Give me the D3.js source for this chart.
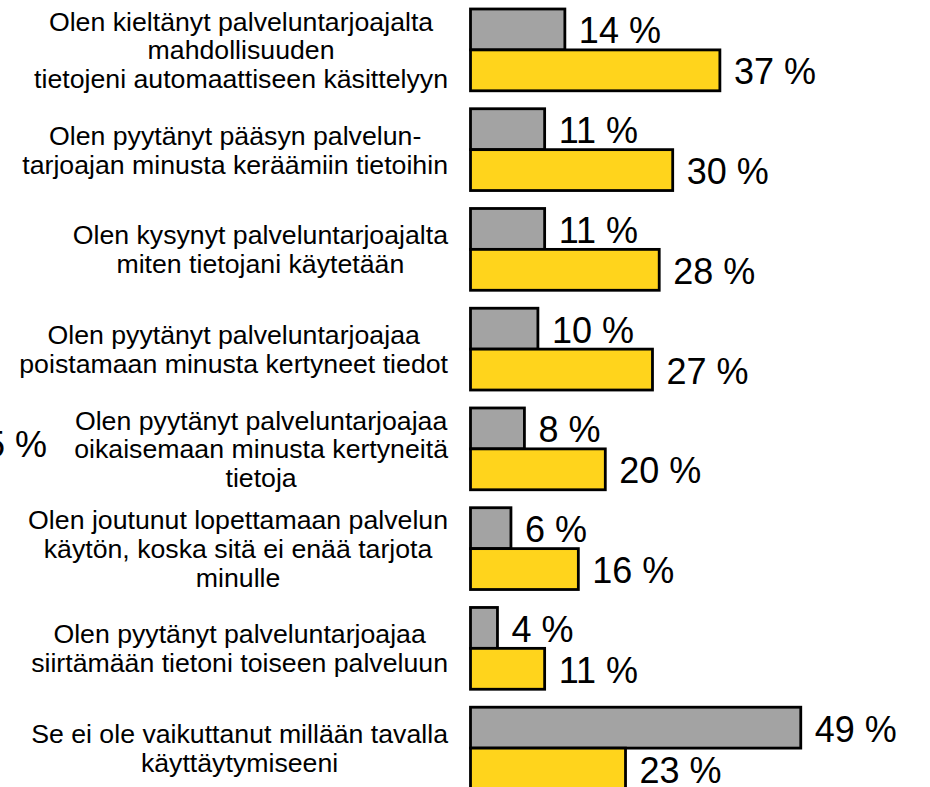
<!DOCTYPE html>
<html>
<head>
<meta charset="utf-8">
<script src="https://cdn.jsdelivr.net/npm/d3@7"></script>
<style>
  html, body { margin: 0; padding: 0; background: #fff; }
  svg { display: block; font-family: "Liberation Sans", Arial, sans-serif; }
</style>
</head>
<body>
<svg id="chart" width="930" height="787"></svg>
<script>
// Survey answers: each category as its own wrapped label lines
const categories = [
  ["Olen kieltänyt palveluntarjoajalta", "mahdollisuuden", "tietojeni automaattiseen käsittelyyn"],
  ["Olen pyytänyt pääsyn palvelun-", "tarjoajan minusta keräämiin tietoihin"],
  ["Olen kysynyt palveluntarjoajalta", "miten tietojani käytetään"],
  ["Olen pyytänyt palveluntarjoajaa", "poistamaan minusta kertyneet tiedot"],
  ["Olen pyytänyt palveluntarjoajaa", "oikaisemaan minusta kertyneitä", "tietoja"],
  ["Olen joutunut lopettamaan palvelun", "käytön, koska sitä ei enää tarjota", "minulle"],
  ["Olen pyytänyt palveluntarjoajaa", "siirtämään tietoni toiseen palveluun"],
  ["Se ei ole vaikuttanut millään tavalla", "käyttäytymiseeni"]
];

// Two series, in percent
const seriesGray   = [14, 11, 11, 10, 8, 6, 4, 49];
const seriesYellow = [37, 30, 28, 27, 20, 16, 11, 23];
const seriesNames  = ["gray", "yellow"];
const seriesColors = ["#a3a3a3", "#ffd41c"];

// Fragment of a neighbouring panel's value label at the left edge
const strayLabels = ["5 %"];

const svg = d3.select("#chart");

const ids = categories.map((_, i) => i);
const rows = ids.map(i => ({ id: i, lines: categories[i], values: [seriesGray[i], seriesYellow[i]] }));

const x = d3.scaleLinear().domain([0, 100]).range([470.5, 1144.5]);
const y0 = d3.scaleBand().domain(ids).range([9, 789]).paddingInner(0.18).paddingOuter(0);
const y1 = d3.scaleBand().domain(seriesNames).range([0, y0.bandwidth()]).padding(0);
const color = d3.scaleOrdinal().domain(seriesNames).range(seriesColors);

const groups = svg.selectAll("g.group")
  .data(rows)
  .join("g")
  .attr("class", "group")
  .attr("transform", d => `translate(0,${y0(d.id)})`);

const bars = groups.selectAll("g.bar")
  .data(d => seriesNames.map((s, k) => ({ key: s, value: d.values[k] })))
  .join("g")
  .attr("class", "bar");

bars.append("rect")
  .attr("x", x(0))
  .attr("y", d => y1(d.key))
  .attr("width", d => x(d.value) - x(0))
  .attr("height", y1.bandwidth())
  .attr("fill", d => color(d.key))
  .attr("stroke", "#000")
  .attr("stroke-width", 2.8);

bars.append("text")
  .attr("x", d => x(d.value) + 14)
  .attr("y", d => y1(d.key) + y1.bandwidth() / 2 + 14)
  .attr("font-size", 36)
  .attr("fill", "#000")
  .text(d => `${d.value} %`);

// Category labels: lines centred within a block whose right edge sits left of the bars
const labelFont = 26.7;
const lineH = 28.8;
const blockRight = 448;
groups.each(function (d) {
  const g = d3.select(this).append("g").attr("class", "label");
  const n = d.lines.length;
  const mid = y0.bandwidth() / 2;
  const texts = g.selectAll("text")
    .data(d.lines)
    .join("text")
    .attr("font-size", labelFont)
    .attr("fill", "#000")
    .attr("text-anchor", "middle")
    .attr("y", (t, i) => mid + (i - (n - 1) / 2) * lineH + 9.5)
    .text(t => t);
  let maxW = 0;
  texts.each(function () { maxW = Math.max(maxW, this.getComputedTextLength()); });
  texts.attr("x", blockRight - maxW / 2);
});

svg.selectAll("text.stray")
  .data(strayLabels)
  .join("text")
  .attr("class", "stray")
  .attr("x", 47)
  .attr("y", 457)
  .attr("text-anchor", "end")
  .attr("font-size", 36)
  .attr("fill", "#000")
  .text(d => d);
</script>
</body>
</html>
